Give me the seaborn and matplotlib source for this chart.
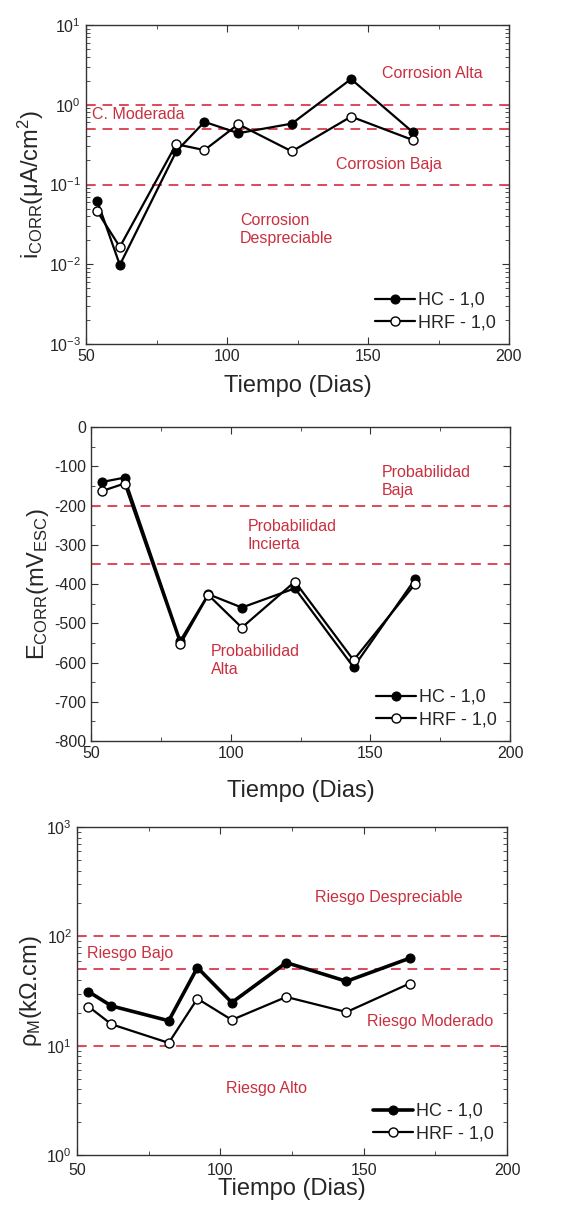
import numpy as np
import pandas as pd
import matplotlib
matplotlib.use('Agg')
import matplotlib.pyplot as plt
import matplotlib.ticker as mticker
import seaborn as sns

# datos
dias = [54, 62, 82, 92, 104, 123, 144, 166]

icorr_hc = [0.062, 0.0098, 0.26, 0.61, 0.44, 0.58, 2.1, 0.45]
icorr_hrf = [0.046, 0.0165, 0.32, 0.27, 0.57, 0.26, 0.71, 0.36]
icorr_limites = [1.0, 0.5, 0.1]

ecorr_hc = [-140, -129, -544, -426, -460, -411, -612, -388]
ecorr_hrf = [-163, -144, -553, -428, -511, -394, -594, -400]
ecorr_limites = [-200, -350]

rho_hc = [31.2, 23.1, 16.9, 51.8, 24.8, 57.5, 38.8, 63.0]
rho_hrf = [22.8, 15.7, 10.6, 26.9, 17.2, 27.9, 20.3, 37.0]
rho_limites = [100, 50, 10]

series = ['HC - 1,0', 'HRF - 1,0']

sns.set_style("ticks")
plt.rcParams['font.family'] = ['Liberation Sans', 'DejaVu Sans']
plt.rcParams['mathtext.fontset'] = 'custom'
plt.rcParams['mathtext.rm'] = 'Liberation Sans'
plt.rcParams['mathtext.it'] = 'Liberation Sans:italic'
plt.rcParams['mathtext.bf'] = 'Liberation Sans:bold'
plt.rcParams['axes.unicode_minus'] = False

ROJO_LINEA = '#dc4a57'
ROJO_TEXTO = '#c9303f'

W, H = 568, 1205
fig = plt.figure(figsize=(W / 100, H / 100), dpi=100)


def caja(l, r, t, b):
    return [l / W, 1 - b / H, (r - l) / W, (b - t) / H]


def dibujar_series(ax, hc, hrf, lw_hc=1.6):
    df = pd.DataFrame({'dias': dias, 'hc': hc, 'hrf': hrf})
    sns.lineplot(data=df, x='dias', y='hc', ax=ax, color='black', lw=lw_hc,
                 marker='o', ms=6.5, mfc='black', mec='black', label=series[0])
    sns.lineplot(data=df, x='dias', y='hrf', ax=ax, color='black', lw=1.6,
                 marker='o', ms=6.5, mfc='white', mec='black', mew=1.0, label=series[1])


def estilo(ax, xpad=3.5):
    ax.set_xlim(50, 200)
    ax.xaxis.set_major_locator(mticker.MultipleLocator(50))
    ax.xaxis.set_minor_locator(mticker.MultipleLocator(25))
    ax.tick_params(which='both', direction='in', top=True, right=True,
                   labelsize=11.5, color='#333333')
    ax.tick_params(which='major', length=5)
    ax.tick_params(which='minor', length=3)
    ax.tick_params(axis='x', pad=xpad)
    for s in ax.spines.values():
        s.set_linewidth(1.0)
        s.set_color('#333333')
    leg = ax.legend(loc='lower right', frameon=False, fontsize=13,
                    handlelength=2.2, handletextpad=0.2, borderaxespad=0.3,
                    labelspacing=0.3)
    return leg


# --- panel 1: icorr ---
ax1 = fig.add_axes(caja(86, 509, 25, 344))
dibujar_series(ax1, icorr_hc, icorr_hrf)
ax1.set_yscale('log')
ax1.set_ylim(1e-3, 10)
for v in icorr_limites:
    ax1.axhline(v, color=ROJO_LINEA, ls=(0, (5, 3.5)), lw=1.4, zorder=1)
ax1.text(155, 2.45, 'Corrosion Alta', color=ROJO_TEXTO, fontsize=11.5, ha='left', va='center')
ax1.text(52, 0.76, 'C. Moderada', color=ROJO_TEXTO, fontsize=11.5, ha='left', va='center')
ax1.text(157.5, 0.18, 'Corrosion Baja', color=ROJO_TEXTO, fontsize=11.5, ha='center', va='center')
ax1.text(104.6, 0.027, 'Corrosion\nDespreciable', color=ROJO_TEXTO, fontsize=11.5,
         ha='left', va='center', linespacing=1.25)
ax1.set_xlabel('Tiempo (Dias)', fontsize=17, labelpad=8)
ax1.set_ylabel(r'i$_{\mathrm{CORR}}$(μA/cm$^{\mathrm{2}}$)', fontsize=17, labelpad=2)
estilo(ax1)

# --- panel 2: Ecorr ---
ax2 = fig.add_axes(caja(91, 510, 427, 741))
dibujar_series(ax2, ecorr_hc, ecorr_hrf)
ax2.set_ylim(-800, 0)
ax2.yaxis.set_major_locator(mticker.MultipleLocator(100))
ax2.yaxis.set_minor_locator(mticker.MultipleLocator(50))
for v in ecorr_limites:
    ax2.axhline(v, color=ROJO_LINEA, ls=(0, (5, 3.5)), lw=1.4, zorder=1)
ax2.text(154, -139, 'Probabilidad\nBaja', color=ROJO_TEXTO, fontsize=11.5,
         ha='left', va='center', linespacing=1.25)
ax2.text(106, -276, 'Probabilidad\nIncierta', color=ROJO_TEXTO, fontsize=11.5,
         ha='left', va='center', linespacing=1.25)
ax2.text(93, -595, 'Probabilidad\nAlta', color=ROJO_TEXTO, fontsize=11.5,
         ha='left', va='center', linespacing=1.25)
ax2.set_xlabel('Tiempo (Dias)', fontsize=17, labelpad=14)
ax2.set_ylabel(r'E$_{\mathrm{CORR}}$(mV$_{\mathrm{ESC}}$)', fontsize=17, labelpad=2)
estilo(ax2)

# --- panel 3: resistividad ---
ax3 = fig.add_axes(caja(77, 507, 827, 1155))
dibujar_series(ax3, rho_hc, rho_hrf, lw_hc=2.6)
ax3.set_yscale('log')
ax3.set_ylim(1, 1000)
for v in rho_limites:
    ax3.axhline(v, color=ROJO_LINEA, ls=(0, (5, 3.5)), lw=1.4, zorder=1)
ax3.text(133, 228, 'Riesgo Despreciable', color=ROJO_TEXTO, fontsize=11.5, ha='left', va='center')
ax3.text(53.5, 70, 'Riesgo Bajo', color=ROJO_TEXTO, fontsize=11.5, ha='left', va='center')
ax3.text(151.3, 16.6, 'Riesgo Moderado', color=ROJO_TEXTO, fontsize=11.5, ha='left', va='center')
ax3.text(102, 4.06, 'Riesgo Alto', color=ROJO_TEXTO, fontsize=11.5, ha='left', va='center')
ax3.set_xlabel('Tiempo (Dias)', fontsize=17, labelpad=0)
ax3.set_ylabel(r'ρ$_{\mathrm{M}}$(kΩ.cm)', fontsize=17, labelpad=2)
estilo(ax3, xpad=6)

fig.savefig('out.png', dpi=100)
